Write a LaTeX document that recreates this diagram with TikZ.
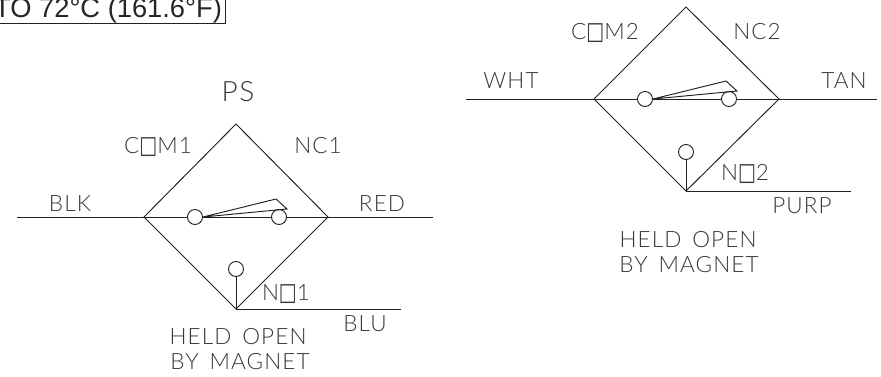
\documentclass[tikz,border=0pt]{standalone}
\usepackage{fontspec}
\setmainfont{Liberation Sans}
\newfontfamily\cadfont[LetterSpace=5,WordSpace=1.5]{Lato Light}
\newfontfamily\boxfont{DejaVu Sans}
\newcommand{\sq}{\raisebox{-0.6pt}{\scalebox{1.0}[1.3]{\boxfont\fontsize{19}{19}\selectfont □}}}
\definecolor{cadtext}{gray}{0.22}
\definecolor{wire}{gray}{0.13}
\tikzset{
  wireline/.style={draw=wire,line width=0.95pt},
  contact/.style={circle,draw=wire,line width=0.95pt,fill=white,minimum size=15pt,inner sep=0pt},
  cadlabel/.style={text=cadtext,inner sep=0pt,anchor=base,font=\cadfont\fontsize{22.5}{26}\selectfont,align=center},
  biglabel/.style={cadlabel,font=\cadfont\fontsize{28}{30}\selectfont},
  titlelabel/.style={inner sep=0pt,anchor=base west,text=black!85,font=\fontsize{27.3}{30}\selectfont}
}
\begin{document}
\begin{tikzpicture}[x=1pt,y=-1pt]
\useasboundingbox (0,0) rectangle (881,376);
% title box, cut off by the top of the picture
\node[titlelabel] (title) at (-6,17) {TO 72°C (161.6°F)};
\coordinate (tbl) at (0,23);
\coordinate (tbr) at (225,23);
\coordinate (ttr) at (225,0);
\draw[wireline] (tbl) -- (tbr) -- (ttr);

% --- left switch ---
\coordinate (top1) at (236,124);
\coordinate (left1) at (144,217);
\coordinate (right1) at (328,217);
\coordinate (bot1) at (236,309);
\coordinate (wa1) at (17,217);
\coordinate (wb1) at (433,217);
\coordinate (wc1) at (401,309);
\coordinate (arm1) at (276,199);
\coordinate (tip1) at (287,209);
\draw[wireline] (top1) -- (right1) -- (bot1) -- (left1) -- cycle;
\draw[wireline] (wa1) -- (wb1);
\draw[wireline] (bot1) -- (wc1);
\node[contact] (ca1) at (195,217) {};
\node[contact] (cb1) at (279,217) {};
\node[contact] (cc1) at (236,269) {};
\draw[wireline] (bot1) -- (cc1);
\draw[wireline] (ca1.east) -- (arm1) -- (tip1) -- (ca1.east);

\node[biglabel] (ps) at (238,101) {PS};
\node[cadlabel] (com1) at (158,153) {C\sq M1};
\node[cadlabel] (nc1) at (318,153) {NC1};
\node[cadlabel] (blk) at (70,211) {BLK};
\node[cadlabel] (red) at (382,211) {RED};
\node[cadlabel] (no1) at (286,300) {N\sq 1};
\node[cadlabel] (blu) at (365,331) {BLU};
\node[cadlabel] (held1) at (238,344) {HELD OPEN};
\node[cadlabel] (by1) at (240,369) {BY MAGNET};

% --- right switch ---
\coordinate (top2) at (686,7);
\coordinate (left2) at (594,99);
\coordinate (right2) at (779,99);
\coordinate (bot2) at (686,191);
\coordinate (wa2) at (466,99);
\coordinate (wb2) at (877,99);
\coordinate (wc2) at (851,191);
\coordinate (arm2) at (726,81);
\coordinate (tip2) at (737,91);
\draw[wireline] (top2) -- (right2) -- (bot2) -- (left2) -- cycle;
\draw[wireline] (wa2) -- (wb2);
\draw[wireline] (bot2) -- (wc2);
\node[contact] (ca2) at (645,99) {};
\node[contact] (cb2) at (729,99) {};
\node[contact] (cc2) at (686,152) {};
\draw[wireline] (bot2) -- (cc2);
\draw[wireline] (ca2.east) -- (arm2) -- (tip2) -- (ca2.east);

\node[cadlabel] (com2) at (605,39) {C\sq M2};
\node[cadlabel] (nc2) at (757,39) {NC2};
\node[cadlabel] (wht) at (511,88) {WHT};
\node[cadlabel] (tan) at (844,88) {TAN};
\node[cadlabel] (no2) at (745,180) {N\sq 2};
\node[cadlabel] (purp) at (802,213) {PURP};
\node[cadlabel] (held2) at (688,247) {HELD OPEN};
\node[cadlabel] (by2) at (689,272) {BY MAGNET};
\end{tikzpicture}
\end{document}
